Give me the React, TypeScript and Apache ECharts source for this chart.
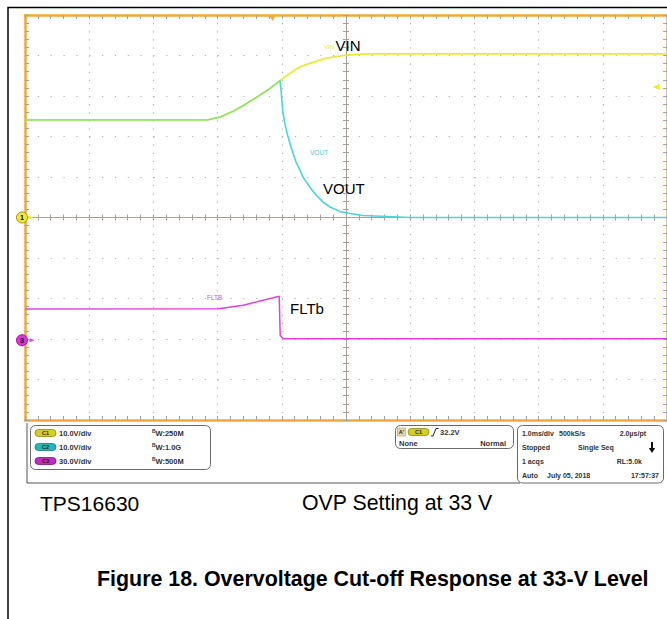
import React, { useEffect, useRef } from "react";
import * as echarts from "echarts";

// ---- data (time in ms relative to screen centre, 1 ms/div; volts) ----
const vinT = [-5, -2.165, -1.963, -1.76, -1.573, -1.386, -1.199, -1.028, -0.872, -0.717, -0.576, -0.452, -0.327, -0.202, 0, 0.327, 0.84, 5];
const vinV = [24.1, 24.1, 24.8, 26.2, 27.9, 29.75, 31.7, 33.8, 35.6, 37.2, 38.0, 38.6, 39.3, 39.6, 40.1, 40.4, 40.4, 40.4];

const voutT = [-5, -2.165, -1.963, -1.76, -1.573, -1.386, -1.199, -1.028, -1.012, -0.997, -0.981, -0.95, -0.919, -0.872, -0.826, -0.779, -0.717, -0.67, -0.607, -0.53, -0.452, -0.358, -0.249, -0.093, 0.062, 0.265, 0.639, 0.997, 5];
const voutV = [24.1, 24.1, 24.8, 26.2, 27.9, 29.75, 31.7, 33.8, 31.5, 28.5, 25.8, 23.1, 20.9, 18.2, 15.9, 13.7, 11.7, 10.0, 8.5, 6.8, 5.3, 3.8, 2.6, 1.5, 1.0, 0.5, 0.25, 0, 0];

const fltT = [-5, -1.99, -1.6, -1.04, -1.025, -0.98, -0.7, 5];
const fltV = [23.1, 23.3, 25.9, 32.6, 3.7, 1.1, 1.0, 1.0];

const cutoffT = -1.02;
const triggerT = -1.145;
const triggerLevel = 32.2;

// channel settings
const chLabels = ["C1", "C2", "C3"];
const chScales = ["10.0V/div", "10.0V/div", "30.0V/div"];
const chBw = ["250M", "1.0G", "500M"];
const ch3VoltsPerDiv = 30;
const ch3OffsetDiv = -3.03;

const acqRows = [
  ["1.0ms/div", "500kS/s", "2.0µs/pt"],
  ["Stopped", "Single Seq", ""],
  ["1 acqs", "", "RL:5.0k"],
  ["Auto", "July 05, 2018", "17:57:37"],
];

const FONT = '"Liberation Sans", Arial, Helvetica, sans-serif';
const ORANGE = "#f2a83a";
const TICK = "#a8a29a";
const CENTER = "#a8a098";
const YELLOW = "#ece838";
const GREEN = "#86e47e";
const CYAN = "#48d6dc";
const MAGENTA = "#e040e0";
const CH_FILL = ["#d6cf22", "#22b8b8", "#c02cc0"];
const CH_STROKE = ["#8a8410", "#107878", "#801080"];

const GL = 25, GT = 15, GW = 642, GH = 405;

function borderAxis(position: string, isX: boolean, split: boolean) {
  return {
    type: "value",
    gridIndex: 0,
    min: isX ? -5 : -50,
    max: isX ? 5 : 50,
    interval: isX ? 1 : 10,
    position,
    axisLine: { show: true, onZero: false, lineStyle: { color: ORANGE, width: 2.5 } },
    axisTick: { show: true, inside: true, length: 4, lineStyle: { color: TICK, width: 1 } },
    minorTick: { show: true, splitNumber: 5, length: 4, lineStyle: { color: TICK, width: 1 } },
    axisLabel: { show: false },
    splitLine: split
      ? {
          show: true,
          lineStyle: { color: "#b0b0b0", width: 1.2, type: isX ? [1.2, 6.9] : [1.2, 11.64] },
        }
      : { show: false },
    minorSplitLine: { show: false },
  };
}

function centerAxis(gridIndex: number, position: string, isX: boolean) {
  return {
    type: "value",
    gridIndex,
    min: isX ? -5 : -50,
    max: isX ? 5 : 50,
    interval: isX ? 1 : 10,
    position,
    axisLine: { show: true, onZero: false, lineStyle: { color: CENTER, width: 1 } },
    axisTick: { show: true, inside: true, length: 3, lineStyle: { color: CENTER, width: 1 } },
    minorTick: { show: true, splitNumber: 5, length: 3, lineStyle: { color: CENTER, width: 1 } },
    axisLabel: { show: false },
    splitLine: { show: false },
  };
}

function hiddenAxis(gridIndex: number) {
  return { type: "value", gridIndex, show: false, min: 0, max: 1, axisLine: { onZero: false } };
}

function txt(text: string, x: number, y: number, size: number, opts: any = {}) {
  return {
    type: "text",
    x,
    y,
    z: 100,
    silent: true,
    style: {
      text,
      fill: opts.fill || "#000",
      font: `${opts.weight || "normal"} ${size}px ${FONT}`,
      align: opts.align || "left",
      verticalAlign: "middle",
    },
  };
}

function pill(x: number, y: number, i: number) {
  return [
    {
      type: "rect",
      z: 100,
      silent: true,
      shape: { x, y: y - 3.5, width: 21, height: 7, r: 3.5 },
      style: { fill: CH_FILL[i], stroke: CH_STROKE[i], lineWidth: 0.8 },
    },
    txt(chLabels[i], x + 10.5, y, 5.5, { align: "center", weight: "bold", fill: "#222" }),
  ];
}

function panelRect(x: number, y: number, w: number, h: number) {
  return {
    type: "rect",
    z: 99,
    silent: true,
    shape: { x, y, width: w, height: h, r: 5 },
    style: { fill: "#fff", stroke: "#6a6a6a", lineWidth: 1 },
  };
}

function buildGraphics() {
  const els: any[] = [];
  els.push({
    type: "polyline",
    z: 100,
    silent: true,
    shape: { points: [[8, 619], [8, 7.5], [667, 7.5]] },
    style: { stroke: "#000", lineWidth: 1.5, fill: null },
  });
  els.push({
    type: "polyline",
    z: 98,
    silent: true,
    shape: { points: [[27, 423], [27, 483], [520, 483]] },
    style: { stroke: "#555", lineWidth: 1, fill: null },
  });

  els.push(panelRect(30.5, 425.5, 180, 44));
  const rowsY = [433, 447, 461];
  rowsY.forEach((y, i) => {
    els.push(...pill(35, y, i));
    els.push(txt(chScales[i], 59, y, 7.5, { weight: "bold", fill: "#333" }));
    els.push(txt("B", 152, y - 2, 5, { weight: "bold", fill: "#333" }));
    els.push(txt("W:" + chBw[i], 155.5, y + 0.8, 7.5, { weight: "bold", fill: "#333" }));
  });

  els.push(panelRect(395.5, 425.5, 118, 23));
  els.push({
    type: "rect",
    z: 100,
    silent: true,
    shape: { x: 397.5, y: 428, width: 8, height: 8 },
    style: { fill: "#ead7a8", stroke: "#b89860", lineWidth: 0.6 },
  });
  els.push(txt("A'", 401.5, 432, 5.5, { align: "center", weight: "bold", fill: "#222" }));
  els.push(...pill(408, 432, 0));
  els.push({
    type: "polyline",
    z: 100,
    silent: true,
    shape: { points: [[431, 436], [433, 436], [436, 428.5], [438.5, 428.5]] },
    style: { stroke: "#222", lineWidth: 1, fill: null },
  });
  els.push(txt(triggerLevel.toFixed(1) + "V", 440, 432, 7.5, { weight: "bold", fill: "#333" }));
  els.push(txt("None", 399, 443, 7.5, { weight: "bold", fill: "#333" }));
  els.push(txt("Normal", 506, 443, 7.5, { weight: "bold", fill: "#333", align: "right" }));

  els.push(panelRect(517.5, 425.5, 146, 57.5));
  const acqY = [433.5, 447.5, 461.5, 475.5];
  const colX = [[522, 559, 646], [522, 578, 646], [522, 578, 642], [522, 547, 659]];
  acqRows.forEach((row, r) => {
    row.forEach((s, c) => {
      if (!s) return;
      els.push(
        txt(s, colX[r][c], acqY[r], 7, { weight: "bold", fill: "#333", align: c === 2 ? "right" : "left" })
      );
    });
  });
  els.push({
    type: "line",
    z: 100,
    silent: true,
    shape: { x1: 652, y1: 442, x2: 652, y2: 449 },
    style: { stroke: "#111", lineWidth: 2 },
  });
  els.push({
    type: "polygon",
    z: 100,
    silent: true,
    shape: { points: [[648.8, 448], [655.2, 448], [652, 453]] },
    style: { fill: "#111" },
  });

  els.push(txt("VIN", 324, 47, 6, { fill: "#e4e040" }));
  els.push(txt("VIN", 335.5, 45.5, 15));
  els.push(txt("VOUT", 310, 152, 6.5, { fill: "#3ccfe0" }));
  els.push(txt("VOUT", 323, 188, 15));
  els.push(txt("FLTB", 207, 297, 6.5, { fill: MAGENTA }));
  els.push(txt("FLTb", 290, 308, 15));

  els.push(txt("TPS16630", 40, 503, 21));
  els.push(txt("OVP Setting at 33 V", 302, 503, 21.3));
  els.push(txt("Figure 18. Overvoltage Cut-off Response at 33-V Level", 97, 579, 21.4, { weight: "bold" }));
  return els;
}

function buildOption() {
  const ch3Min = (-5 - ch3OffsetDiv) * ch3VoltsPerDiv;
  const ch3Max = (5 - ch3OffsetDiv) * ch3VoltsPerDiv;
  const splitIdx = voutT.findIndex((t) => t > cutoffT) - 1;
  const voutPts = voutT.map((t, i) => [t, voutV[i]]);
  const half = GH / 2;
  return {
    animation: false,
    backgroundColor: "#fff",
    grid: [
      { left: GL, top: GT, width: GW, height: GH, containLabel: false },
      { left: GL, top: GT, width: GW, height: half, containLabel: false },
      { left: GL, top: GT + half, width: GW, height: half, containLabel: false },
      { left: GL, top: GT, width: GW / 2, height: GH, containLabel: false },
      { left: GL + GW / 2, top: GT, width: GW / 2, height: GH, containLabel: false },
    ],
    xAxis: [
      borderAxis("bottom", true, true),
      borderAxis("top", true, false),
      centerAxis(1, "bottom", true),
      centerAxis(2, "top", true),
      hiddenAxis(3),
      hiddenAxis(4),
    ],
    yAxis: [
      borderAxis("left", false, true),
      borderAxis("right", false, false),
      { type: "value", gridIndex: 0, show: false, min: ch3Min, max: ch3Max, position: "right", axisLine: { onZero: false } },
      hiddenAxis(1),
      hiddenAxis(2),
      centerAxis(3, "right", false),
      centerAxis(4, "left", false),
    ],
    series: [
      {
        type: "line",
        name: "VIN",
        xAxisIndex: 0,
        yAxisIndex: 0,
        data: vinT.map((t, i) => [t, vinV[i]]),
        symbol: "none",
        lineStyle: { color: YELLOW, width: 1.8, join: "round" },
        z: 3,
        silent: true,
        markPoint: {
          silent: true,
          z: 6,
          data: [
            {
              coord: [triggerT, 50],
              symbol: "triangle",
              symbolRotate: 180,
              symbolSize: [7, 6],
              symbolOffset: [0, 3],
              itemStyle: { color: ORANGE },
              label: { show: false },
            },
            {
              coord: [5, triggerLevel],
              symbol: "triangle",
              symbolRotate: 90,
              symbolSize: [6, 7],
              symbolOffset: [-11, 0],
              itemStyle: { color: "#f0ec20" },
              label: { show: false },
            },
            {
              coord: [-5, 0],
              symbol: "circle",
              symbolSize: 11,
              symbolOffset: [-3, 0],
              itemStyle: { color: "#f2ea2a", borderColor: "#9a9410", borderWidth: 1 },
              label: { show: true, position: "inside", formatter: "1", fontSize: 7, fontWeight: "bold", color: "#000", fontFamily: FONT },
            },
            {
              coord: [-5, 0],
              symbol: "triangle",
              symbolRotate: -90,
              symbolSize: [4, 5],
              symbolOffset: [6, 0],
              itemStyle: { color: "#f0ec20" },
              label: { show: false },
            },
          ],
        },
      },
      {
        type: "line",
        name: "VOUT (overlapping VIN)",
        xAxisIndex: 0,
        yAxisIndex: 0,
        data: voutPts.slice(0, splitIdx + 1),
        symbol: "none",
        lineStyle: { color: GREEN, width: 1.5, join: "round" },
        z: 4,
        silent: true,
      },
      {
        type: "line",
        name: "VOUT",
        xAxisIndex: 0,
        yAxisIndex: 0,
        data: voutPts.slice(splitIdx),
        symbol: "none",
        lineStyle: { color: CYAN, width: 1.6, join: "round" },
        z: 4,
        silent: true,
      },
      {
        type: "line",
        name: "FLTb",
        xAxisIndex: 0,
        yAxisIndex: 2,
        data: fltT.map((t, i) => [t, fltV[i]]),
        symbol: "none",
        lineStyle: { color: MAGENTA, width: 1.5 },
        z: 3,
        silent: true,
        markPoint: {
          silent: true,
          z: 6,
          data: [
            {
              coord: [-5, 0],
              symbol: "circle",
              symbolSize: 11,
              symbolOffset: [-3, 0],
              itemStyle: { color: "#e630e6", borderColor: "#a010a0", borderWidth: 1 },
              label: { show: true, position: "inside", formatter: "3", fontSize: 7, fontWeight: "bold", color: "#000", fontFamily: FONT },
            },
            {
              coord: [-5, 0],
              symbol: "triangle",
              symbolRotate: -90,
              symbolSize: [4, 5],
              symbolOffset: [7, 0],
              itemStyle: { color: MAGENTA },
              label: { show: false },
            },
          ],
        },
      },
    ],
    graphic: buildGraphics(),
  };
}

export default function App() {
  const ref = useRef<HTMLDivElement>(null);
  useEffect(() => {
    document.body.style.margin = "0";
    const chart = echarts.init(ref.current!, null, { renderer: "svg" });
    chart.setOption(buildOption() as any);
    return () => chart.dispose();
  }, []);
  return <div ref={ref} style={{ width: 667, height: 619 }} />;
}
